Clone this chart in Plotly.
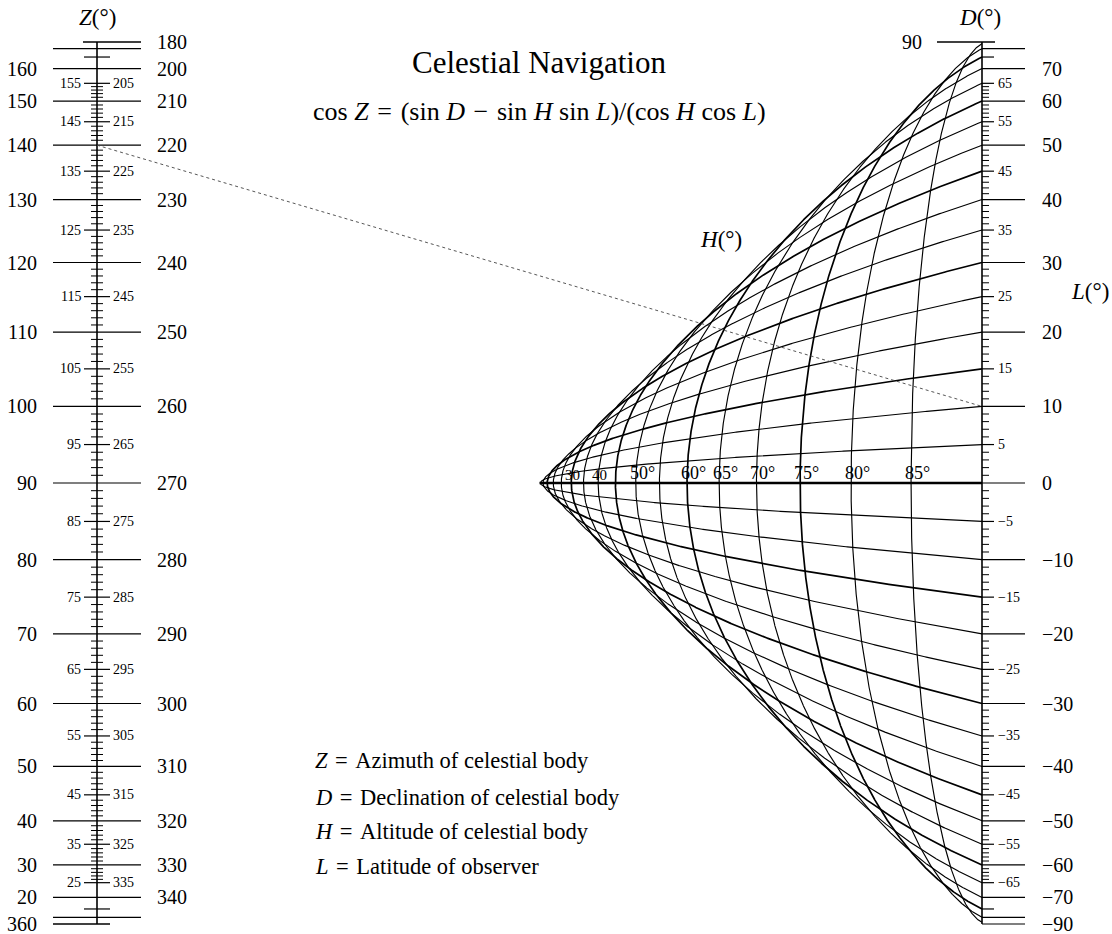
import numpy as np
import plotly.graph_objects as go

# ---------------- data ----------------
H_VALUES = list(range(5, 90, 5))            # grid curves (H and L share the family)
H_LABELS = {30: "30", 40: "40", 50: "50°", 60: "60°", 65: "65°",
            70: "70°", 75: "75°", 80: "80°", 85: "85°"}
Z_MAJOR = list(range(10, 180, 10))
Z_MAJOR_LABELED = list(range(20, 170, 10))
Z_MEDIUM = list(range(15, 170, 10))
Z_MEDIUM_LABELED = list(range(25, 160, 10))
Z_MINOR = [z for z in range(26, 155) if z % 5]
D_MAJOR = list(range(-80, 90, 10))
D_MAJOR_LABELED = list(range(-70, 80, 10))
D_MEDIUM = list(range(-75, 80, 10))
D_MEDIUM_LABELED = list(range(-65, 70, 10))
D_MINOR = [d for d in range(-64, 65) if d % 5]
EXAMPLE_Z, EXAMPLE_D = 140, 10
SP = "\u2004"
LEGEND_LINES = [f"<i>Z</i>{SP}={SP}Azimuth of celestial body",
                f"<i>D</i>{SP}={SP}Declination of celestial body",
                f"<i>H</i>{SP}={SP}Altitude of celestial body",
                f"<i>L</i>{SP}={SP}Latitude of observer"]

# ---------------- geometry ----------------
W, HGT = 1112, 934
XL, XR, Y0, SC = 97.0, 982.0, 483.0, 441.0
PX = 1.0 / (XR - XL)          # one pixel in x units
FONT = "Liberation Serif, Times New Roman, serif"

rad = np.radians
def zY(z): return -np.cos(rad(z))
def dY(d): return np.sin(rad(d))

def segs(xa, xb, ys):
    xs, yy = [], []
    for y in ys:
        xs += [xa, xb, None]
        yy += [y, y, None]
    return xs, yy

fig = go.Figure()
def add_line(xs, ys, width=1.2, color="black", dash=None):
    fig.add_trace(go.Scatter(x=xs, y=ys, mode="lines", hoverinfo="skip",
                             line=dict(color=color, width=width, dash=dash),
                             showlegend=False))

# grid curves
Lg = np.linspace(-90, 90, 1441)
for p in H_VALUES:
    c = np.cos(rad(p)) * np.cos(rad(Lg))
    s = np.sin(rad(p)) * np.sin(rad(Lg))
    add_line(1 / (1 + c), s / (1 + c), width=1.7 if p % 15 == 0 else 1.15)
# H = 0 line
c0 = np.cos(rad(np.linspace(0, 90, 200)))
add_line(1 / (1 + c0), 0 * c0, width=2.6)

# axes
add_line([0, 0], [-1, 1], width=1.6)
add_line([1, 1], [-1, 1], width=1.6)

# Z ticks
add_line(*segs(-44 * PX, 44 * PX, [zY(z) for z in Z_MAJOR]), width=1.2)
add_line(*segs(-13 * PX, 13 * PX, [zY(z) for z in Z_MEDIUM]), width=1.2)
add_line(*segs(-6 * PX, 6 * PX, [zY(z) for z in Z_MINOR]), width=1.0)
add_line([-44 * PX, 13 * PX], [zY(0), zY(0)], width=1.4)
add_line([-14 * PX, 44 * PX], [zY(180), zY(180)], width=1.4)

# D ticks
add_line(*segs(1, 1 + 43 * PX, [dY(d) for d in D_MAJOR + [-90]]), width=1.2)
add_line(*segs(1, 1 + 12 * PX, [dY(d) for d in D_MEDIUM]), width=1.2)
add_line(*segs(1, 1 + 7 * PX, [dY(d) for d in D_MINOR]), width=1.0)
add_line([1 - 45 * PX, 1 + 13 * PX], [dY(90), dY(90)], width=1.4)

# example isopleth
add_line([0, 1], [zY(EXAMPLE_Z), dY(EXAMPLE_D)], width=0.9, color="#444444", dash="3px,3px")

ann = []
def txt(text, x, y, size, xanchor="center", yanchor="middle", xref="paper", yref="paper", **kw):
    ann.append(dict(text=text, x=x, y=y, xref=xref, yref=yref, xanchor=xanchor,
                    yanchor=yanchor, showarrow=False,
                    font=dict(family=FONT, size=size, color="black"), **kw))

def fmt(v):
    return ("−" + str(-v)) if v < 0 else str(v)

BIG, SMALL = 20, 14
# Z labels
for z in Z_MAJOR_LABELED:
    txt(str(z), 39 / W, zY(z), BIG, xanchor="right", yref="y")
    txt(str(360 - z), 155 / W, zY(z), BIG, xanchor="left", yref="y")
for z in Z_MEDIUM_LABELED:
    txt(str(z), 83 / W, zY(z), SMALL, xanchor="right", yref="y")
    txt(str(360 - z), 111 / W, zY(z), SMALL, xanchor="left", yref="y")
txt("360", 39 / W, zY(0), BIG, xanchor="right", yref="y")
txt("180", 155 / W, zY(180), BIG, xanchor="left", yref="y")

# D labels
for d in D_MAJOR_LABELED + [-90]:
    txt(fmt(d), 1040 / W, dY(d), BIG, xanchor="left", yref="y")
for d in D_MEDIUM_LABELED:
    txt(fmt(d), 996 / W, dY(d), SMALL, xanchor="left", yref="y")
txt("90", 924 / W, dY(90), BIG, xanchor="right", yref="y")

# H labels along the zero line
for p, lab in H_LABELS.items():
    xc = 1 / (1 + np.cos(rad(p)))
    txt(lab, xc, 0, 15 if p < 50 else 18, xanchor="left", yanchor="bottom",
        xref="x", yref="y", xshift=-8, yshift=-2)

# scale titles
txt("<i>Z</i>(°)", 97 / W, 1 - 17 / HGT, 23)
txt("<i>D</i>(°)", 980 / W, 1 - 17 / HGT, 23)
txt("<i>H</i>(°)", 721 / W, 1 - 240 / HGT, 23)
txt("<i>L</i>(°)", 1090 / W, 1 - 292 / HGT, 23)

# title & formula
txt("Celestial Navigation", 539 / W, 1 - 62 / HGT, 31)
txt(f"cos <i>Z</i>{SP}={SP}(sin <i>D</i>{SP}−{SP}sin <i>H</i> sin <i>L</i>)/(cos <i>H</i> cos <i>L</i>)",
    539 / W, 1 - 111 / HGT, 26)

for line, yc in zip(LEGEND_LINES, [760, 797, 831, 866]):
    txt(line, 313 / W, 1 - yc / HGT, 22.5, xanchor="left")

fig.update_layout(
    width=W, height=HGT, autosize=False,
    margin=dict(l=0, r=0, t=0, b=0),
    paper_bgcolor="white", plot_bgcolor="white",
    xaxis=dict(range=[-XL * PX, (W - XL) * PX], visible=False, fixedrange=True),
    yaxis=dict(range=[(Y0 - HGT) / SC, Y0 / SC], visible=False, fixedrange=True),
    annotations=ann, showlegend=False,
)

fig.write_html("out.html", config={"displayModeBar": False},
               post_script="document.body.style.margin='0px';")
